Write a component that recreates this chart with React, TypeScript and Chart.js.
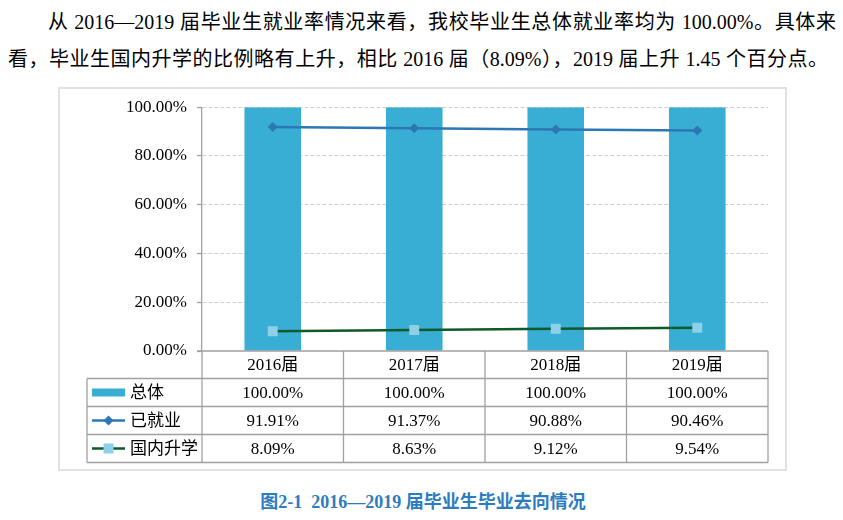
import React, { useEffect, useRef } from "react";
import { Chart, registerables } from "chart.js";

Chart.register(...registerables);

const categories = ["2016届", "2017届", "2018届", "2019届"];
const totalRate = [100, 100, 100, 100];
const employedRate = [91.91, 91.37, 90.88, 90.46];
const furtherStudyRate = [8.09, 8.63, 9.12, 9.54];
const seriesNames = ["总体", "已就业", "国内升学"];
const yTicks = [0, 20, 40, 60, 80, 100];

const FONT = '"Liberation Serif", "Noto Sans CJK SC", serif';
const BAR_COLOR = "#38AED4";
const EMP_COLOR = "#2C77B4";
const STUDY_LINE = "#0E5A2A";
const STUDY_POINT = "#8ED0E8";
const TABLE_LINE = "#a0a0a0";

const fmt = (v: number) => v.toFixed(2) + "%";

const tablePlugin = {
  id: "dataTable",
  afterDraw(chart: any) {
    const { ctx, chartArea } = chart;
    const x = chart.scales.x;
    const centers = categories.map((_, i) => x.getPixelForValue(i));
    const half = (centers[1] - centers[0]) / 2;
    const bounds = [centers[0] - half, ...centers.map((c: number) => c + half)];
    const top = chartArea.bottom;
    const headerH = 27.5;
    const rowH = 28;
    const tableLeft = 29;
    const axisX = chartArea.left;
    const right = bounds[bounds.length - 1];
    const rowsTop = top + headerH;
    const bottom = rowsTop + rowH * 3;

    ctx.save();
    ctx.strokeStyle = TABLE_LINE;
    ctx.lineWidth = 1.3;
    ctx.beginPath();
    ctx.moveTo(axisX - 5, top);
    ctx.lineTo(right, top);
    for (let r = 0; r <= 3; r++) {
      const y = rowsTop + r * rowH;
      ctx.moveTo(tableLeft, y);
      ctx.lineTo(right, y);
    }
    ctx.moveTo(tableLeft, rowsTop);
    ctx.lineTo(tableLeft, bottom);
    bounds.forEach((b: number) => {
      ctx.moveTo(b, top);
      ctx.lineTo(b, bottom);
    });
    ctx.stroke();

    ctx.fillStyle = "#000";
    ctx.font = "17px " + FONT;
    ctx.textAlign = "center";
    ctx.textBaseline = "middle";
    categories.forEach((c, i) => {
      ctx.fillText(c, centers[i], top + headerH / 2 + 1);
    });
    const rows = [totalRate, employedRate, furtherStudyRate];
    rows.forEach((vals, r) => {
      const cy = rowsTop + r * rowH + rowH / 2 + 1;
      vals.forEach((v, i) => ctx.fillText(fmt(v), centers[i], cy));
    });

    const keyL = 92 - 58;
    const keyR = 125 - 58;
    const keyC = (keyL + keyR) / 2;
    ctx.textAlign = "left";
    rows.forEach((_, r) => {
      const cy = rowsTop + r * rowH + rowH / 2;
      if (r === 0) {
        ctx.fillStyle = BAR_COLOR;
        ctx.fillRect(keyL, cy - 4, keyR - keyL, 8);
      } else if (r === 1) {
        ctx.strokeStyle = EMP_COLOR;
        ctx.lineWidth = 2.5;
        ctx.beginPath();
        ctx.moveTo(keyL, cy);
        ctx.lineTo(keyR, cy);
        ctx.stroke();
        ctx.fillStyle = EMP_COLOR;
        ctx.beginPath();
        ctx.moveTo(keyC - 5, cy);
        ctx.lineTo(keyC, cy - 5);
        ctx.lineTo(keyC + 5, cy);
        ctx.lineTo(keyC, cy + 5);
        ctx.closePath();
        ctx.fill();
      } else {
        ctx.strokeStyle = STUDY_LINE;
        ctx.lineWidth = 2.5;
        ctx.beginPath();
        ctx.moveTo(keyL, cy);
        ctx.lineTo(keyR, cy);
        ctx.stroke();
        ctx.fillStyle = STUDY_POINT;
        ctx.fillRect(keyC - 5, cy - 5, 10, 10);
      }
      ctx.fillStyle = "#000";
      ctx.font = "17px " + FONT;
      ctx.fillText(seriesNames[r], 130 - 58, cy + 1);
    });
    ctx.restore();
  },
};

function ChartBox() {
  const ref = useRef<HTMLCanvasElement | null>(null);
  useEffect(() => {
    if (!ref.current) return;
    const chart = new Chart(ref.current, {
      type: "bar",
      data: {
        labels: categories,
        datasets: [
          {
            type: "bar",
            label: seriesNames[0],
            data: totalRate,
            backgroundColor: BAR_COLOR,
            barPercentage: 0.4,
            categoryPercentage: 1,
            order: 10,
          } as any,
          {
            type: "line",
            label: seriesNames[1],
            data: employedRate,
            borderColor: EMP_COLOR,
            backgroundColor: EMP_COLOR,
            borderWidth: 2.5,
            pointStyle: "rectRot",
            pointRadius: 5,
            pointBorderWidth: 0,
            order: 2,
          },
          {
            type: "line",
            label: seriesNames[2],
            data: furtherStudyRate,
            borderColor: STUDY_LINE,
            backgroundColor: STUDY_POINT,
            borderWidth: 2.5,
            pointStyle: "rect",
            pointRadius: 7,
            pointBorderWidth: 0,
            order: 1,
          },
        ],
      },
      options: {
        animation: false,
        responsive: false,
        maintainAspectRatio: false,
        events: [],
        layout: { padding: { left: 0, top: 19, right: 19, bottom: 120 } },
        plugins: { legend: { display: false }, tooltip: { enabled: false } },
        scales: {
          x: { display: false, offset: true },
          y: {
            min: 0,
            max: 100,
            afterFit: (scale: any) => {
              scale.width = 144;
            },
            afterBuildTicks: (scale: any) => {
              scale.ticks = yTicks.map((v) => ({ value: v }));
            },
            ticks: {
              callback: (v: any) => fmt(Number(v)),
              color: "#000",
              font: { family: FONT, size: 17 },
              padding: 10,
            },
            grid: {
              color: (c: any) => (c.tick && c.tick.value === 0 ? "rgba(0,0,0,0)" : "#d0d0d0"),
              lineWidth: 1,
              tickLength: 5,
              tickColor: TABLE_LINE,
              tickWidth: 1.3,
              tickBorderDash: [],
            },
            border: { display: true, color: TABLE_LINE, width: 1.3, dash: [4, 2] },
          },
        },
      },
      plugins: [tablePlugin],
    } as any);
    return () => chart.destroy();
  }, []);
  return (
    <canvas ref={ref} width={729} height={384} style={{ width: 729, height: 384, display: "block" }} />
  );
}

export default function App() {
  const textStyle: React.CSSProperties = {
    position: "absolute",
    fontFamily: FONT,
    fontSize: 20,
    lineHeight: "20px",
    color: "#000",
  };
  return (
    <div style={{ position: "absolute", left: 0, top: 0, width: 843, height: 520, background: "#fff", overflow: "hidden" }}>
      <div style={{ ...textStyle, left: 48, top: 12, width: 788, textAlign: "justify", textAlignLast: "justify" as any }}>
        从 2016—2019 届毕业生就业率情况来看，我校毕业生总体就业率均为 100.00%。具体来
      </div>
      <div style={{ ...textStyle, left: 8, top: 49, width: 820, textAlign: "justify", textAlignLast: "justify" as any }}>
        看，毕业生国内升学的比例略有上升，相比 2016 届（8.09%），2019 届上升 1.45 个百分点。
      </div>
      <div style={{ position: "absolute", left: 58, top: 87, width: 729, height: 384 }}>
        <ChartBox />
        <div style={{ position: "absolute", left: 0, top: 0, width: 729, height: 384, border: "2px solid #e2e2e2", boxSizing: "border-box", pointerEvents: "none" }} />
      </div>
      <div style={{ position: "absolute", left: 0, top: 492, width: 846, textAlign: "center", fontFamily: FONT, fontSize: 18, lineHeight: "20px", fontWeight: "bold", color: "#2E7CC0", whiteSpace: "pre" }}>
        {"图2-1  2016—2019 届毕业生毕业去向情况"}
      </div>
    </div>
  );
}
